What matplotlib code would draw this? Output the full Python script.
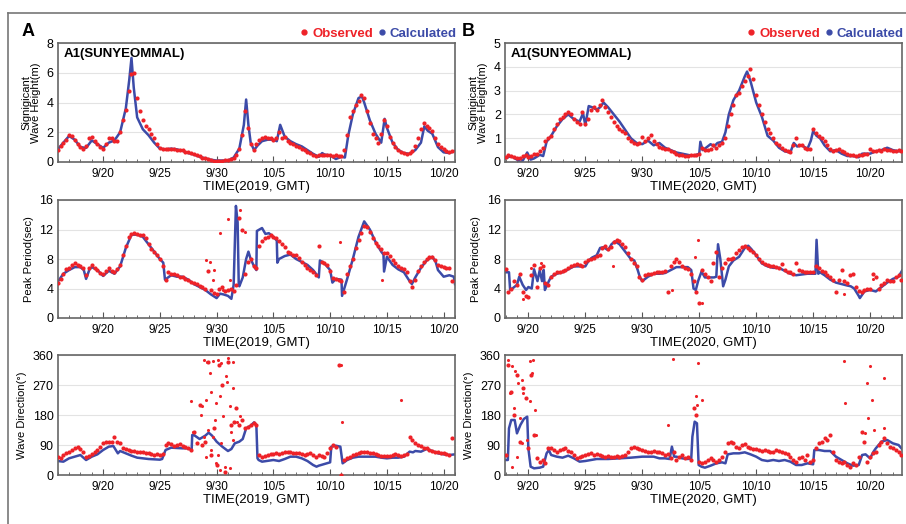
import numpy as np
import matplotlib
matplotlib.use("Agg")
import matplotlib.pyplot as plt
from matplotlib.lines import Line2D
from matplotlib.ticker import MultipleLocator

plt.rcParams['font.family'] = ['Liberation Sans', 'DejaVu Sans']

RED = '#ee2228'
BLUE = '#3c4ba8'

# x axis: day number counted from 1 September (10/5 -> 35)
tick_days = [20, 25, 30, 35, 40, 45, 50]
tick_labels = ['9/20', '9/25', '9/30', '10/5', '10/10', '10/15', '10/20']

# ---------------- 2019 (panel A) ----------------
a_obs_start = 16.0   # observations every 6 h
a_hs_obs = [0.8, 1.1, 1.3, 1.5, 1.8, 1.75, 1.5, 1.2, 1.0, 0.9, 1.1, 1.6, 1.7, 1.4, 1.2, 1.0,
            0.9, 1.2, 1.6, 1.6, 1.4, 1.4, 2.0, 2.8, 3.5, 4.8, 5.9, 6.0, 4.3, 3.4, 2.8, 2.4,
            2.2, 1.9, 1.6, 1.2, 0.95, 0.9, 0.9, 0.85, 0.9, 0.85, 0.8, 0.8, 0.8, 0.7, 0.65, 0.6,
            0.55, 0.5, 0.4, 0.3, 0.25, 0.2, 0.15, 0.1, 0.1, 0.1, 0.1, 0.12, 0.15, 0.2, 0.3, 0.5,
            0.9, 1.8, 3.4, 2.3, 1.2, 0.8, 1.2, 1.5, 1.6, 1.7, 1.6, 1.6, 1.5, 1.6, 2.0, 1.6,
            1.7, 1.4, 1.3, 1.2, 1.1, 1.0, 0.9, 0.8, 0.7, 0.6, 0.5, 0.4, 0.45, 0.5, 0.5, 0.5,
            0.45, 0.4, 0.45, 0.4, 0.4, 0.8, 1.8, 3.0, 3.4, 3.8, 4.1, 4.5, 4.3, 3.4, 2.6, 1.9,
            1.6, 1.3, 1.9, 2.8, 2.4, 1.7, 1.3, 1.0, 0.8, 0.7, 0.6, 0.55, 0.6, 0.75, 1.1, 1.6,
            2.2, 2.6, 2.4, 2.3, 2.1, 1.6, 1.2, 1.0, 0.9, 0.75, 0.7, 0.75]
a_tp_obs = [4.8, 5.3, 6.0, 6.6, 6.8, 7.2, 7.4, 7.2, 7.0, 6.8, 5.8, 6.8, 7.2, 6.8, 6.5, 6.1,
            5.9, 6.4, 6.8, 6.4, 6.2, 6.6, 7.2, 8.6, 9.8, 11.0, 11.4, 11.5, 11.4, 11.3, 11.2, 10.8,
            10.0, 9.4, 9.0, 8.5, 8.0, 7.0, 5.2, 6.2, 6.0, 5.9, 5.8, 5.6, 5.6, 5.3, 5.1, 4.9,
            4.8, 4.6, 4.3, 4.2, 4.0, 6.4, 3.8, 3.4, 3.2, 4.0, 4.2, 3.6, 3.8, 4.0, 3.6, 4.5,
            13.5, 12.0, 6.0, 7.6, 8.0, 7.0, 6.8, 9.8, 10.5, 10.8, 11.0, 11.2, 11.0, 10.8, 10.4, 10.0,
            9.6, 9.0, 8.8, 8.6, 8.5, 8.2, 7.6, 7.2, 6.8, 6.5, 6.3, 5.8, 9.8, 7.6, 7.4, 7.2,
            6.4, 5.4, 5.3, 5.2, 5.0, 3.5, 6.0, 7.0, 8.0, 9.5, 10.6, 11.5, 12.5, 12.4, 11.6, 10.8,
            10.2, 9.8, 9.3, 8.8, 8.8, 8.4, 7.8, 7.4, 7.0, 6.8, 6.6, 6.2, 5.0, 4.2, 5.2, 6.4,
            7.0, 7.6, 8.0, 8.3, 8.3, 7.8, 7.2, 7.0, 6.9, 6.8, 6.8, 5.0]
a_dir_obs = [55, 52, 60, 65, 70, 75, 80, 85, 78, 70, 55, 58, 62, 68, 75, 85,
             95, 100, 98, 100, 115, 100, 95, 80, 78, 75, 72, 72, 70, 70, 68, 65,
             65, 62, 60, 62, 60, 62, 90, 95, 92, 88, 90, 92, 88, 85, 80, 75,
             130, 95, 210, 90, 100, 340, 60, 140, 30, 330, 270, 10, 340, 150, 160, 200,
             150, 165, 140, 145, 150, 155, 150, 60, 55, 58, 60, 62, 62, 65, 62, 65,
             68, 70, 68, 66, 65, 65, 62, 60, 62, 65, 60, 55, 60, 58, 55, 65,
             80, 90, 85, 330, 0, 45, 50, 55, 60, 62, 65, 68, 68, 68, 65, 66,
             62, 60, 58, 58, 56, 58, 60, 62, 60, 58, 60, 62, 115, 105, 95, 90,
             88, 82, 80, 75, 72, 70, 68, 66, 65, 62, 60, 110]
a_tp_extra = [(30.27, 11.5), (31.0, 13.4), (29.44, 7.6), (29.8, 6.5), (32.03, 14.6),
              (32.27, 11.9), (32.5, 11.7), (29.68, 5.1), (30.56, 3.8), (31.15, 5.1),
              (40.9, 10.3), (44.57, 5.1), (29.1, 7.8)]
a_dir_extra = [(27.76, 221), (28.85, 344), (29.14, 338), (29.38, 306), (29.68, 341),
               (30.12, 344), (30.41, 336), (31.0, 351), (31.44, 338), (28.73, 206),
               (29.03, 226), (29.23, 135), (29.82, 165), (30.27, 236), (30.56, 176),
               (31.15, 206), (31.44, 261), (30.8, 296), (29.97, 216), (28.85, 115),
               (29.53, 75), (30.27, 15), (30.71, 25), (29.97, 35), (31.15, 20),
               (29.09, 55), (31.44, 105), (29.68, 115), (30.41, 95), (40.94, 331),
               (41.03, 160), (46.2, 226), (27.9, 130), (32.03, 176), (31.8, 160),
               (29.5, 250), (30.9, 280), (28.6, 180), (30.1, 60), (31.3, 130)]

a_hs_calc = [(16, 0.85), (16.5, 1.3), (17, 1.75), (17.5, 1.5), (18, 1.0), (18.5, 0.95), (19, 1.45),
             (19.5, 1.2), (20, 0.95), (20.5, 1.3), (21, 1.45), (21.5, 2.0), (22, 3.6), (22.3, 5.5),
             (22.5, 7.0), (22.7, 5.0), (23, 3.0), (23.5, 2.2), (24, 1.8), (24.5, 1.3), (25, 0.9),
             (25.5, 0.85), (26, 0.9), (26.5, 0.85), (27, 0.75), (27.5, 0.6), (28, 0.5), (28.5, 0.35),
             (29, 0.25), (29.5, 0.15), (30, 0.1), (30.5, 0.1), (31, 0.1), (31.5, 0.3), (32, 0.9),
             (32.4, 2.5), (32.6, 4.2), (32.8, 2.5), (33, 1.3), (33.3, 0.8), (33.6, 1.1), (34, 1.4),
             (34.5, 1.5), (35, 1.5), (35.3, 1.4), (35.6, 2.5), (36, 1.7), (36.5, 1.4), (37, 1.2),
             (37.5, 1.05), (38, 0.8), (38.5, 0.55), (39, 0.35), (39.3, 0.6), (39.5, 0.5), (40, 0.45),
             (40.5, 0.2), (41, 0.35), (41.3, 0.3), (41.6, 1.8), (42, 3.2), (42.5, 4.3), (42.8, 4.4),
             (43, 4.0), (43.5, 2.8), (44, 1.9), (44.5, 1.3), (44.8, 2.9), (45, 2.3), (45.5, 1.3),
             (46, 0.8), (46.5, 0.6), (47, 0.55), (47.5, 0.8), (48, 1.3), (48.3, 2.4), (48.6, 2.1),
             (49, 1.9), (49.5, 1.0), (50, 0.65), (50.5, 0.6), (51, 0.75)]
a_tp_calc = [(16, 4.9), (16.5, 6.0), (17, 6.5), (17.5, 6.9), (18, 6.9), (18.3, 6.5), (18.5, 5.3),
             (18.8, 6.6), (19, 6.9), (19.5, 6.5), (20, 5.7), (20.5, 6.4), (21, 6.0), (21.5, 7.0),
             (22, 9.5), (22.5, 11.3), (23, 11.3), (23.5, 11.0), (24, 10.0), (24.5, 9.0), (25, 8.0),
             (25.3, 7.5), (25.45, 5.2), (26, 5.8), (26.5, 5.6), (27, 5.6), (27.5, 5.2), (28, 4.6),
             (28.5, 4.2), (29, 3.8), (29.5, 3.2), (30, 2.7), (30.3, 3.3), (30.6, 3.2), (31, 3.0),
             (31.3, 2.6), (31.5, 4.5), (31.7, 15.2), (31.85, 13.0), (31.95, 4.5), (32, 4.3),
             (32.3, 5.5), (32.6, 8.0), (32.8, 9.0), (33, 8.0), (33.3, 7.0), (33.5, 6.5),
             (33.55, 11.8), (34, 12.2), (34.3, 11.4), (34.6, 11.5), (35, 11.0), (35.3, 10.5),
             (35.35, 7.5), (35.5, 8.0), (36, 8.4), (36.5, 8.6), (37, 8.0), (37.5, 7.6), (38, 7.2),
             (38.5, 6.5), (39, 5.5), (39.1, 7.8), (39.5, 7.4), (40, 6.5), (40.2, 4.8), (40.5, 5.3),
             (41, 5.2), (41.05, 3.0), (41.5, 5.3), (42, 8.0), (42.5, 11.0), (43, 13.1), (43.5, 12.0),
             (44, 10.3), (44.5, 9.0), (44.7, 8.6), (44.75, 6.3), (45, 8.3), (45.5, 7.2), (46, 6.6),
             (46.5, 6.2), (47, 5.0), (47.2, 4.6), (47.5, 5.5), (48, 6.8), (48.5, 7.8), (49, 8.3),
             (49.3, 7.6), (49.5, 6.5), (50, 5.6), (50.5, 5.8), (50.9, 5.6), (51, 4.6)]
a_dir_calc = [(16, 42), (16.5, 40), (17, 50), (17.5, 55), (18, 60), (18.5, 45), (19, 55), (19.5, 62),
              (20, 75), (20.5, 85), (20.9, 87), (21.3, 65), (21.5, 72), (22, 65), (22.5, 58),
              (23, 52), (24, 48), (25, 46), (25.2, 48), (25.5, 75), (26, 82), (27, 80), (27.5, 80),
              (27.8, 75), (27.85, 120), (28, 120), (28.5, 108), (29, 118), (29.3, 127), (29.6, 118),
              (30, 100), (30.5, 85), (31, 72), (31.3, 78), (31.6, 95), (32, 100), (32.3, 108),
              (32.6, 140), (33, 148), (33.3, 158), (33.5, 150), (33.6, 50), (33.7, 45), (34, 40),
              (35, 45), (35.5, 42), (36, 48), (36.5, 55), (37, 55), (37.5, 50), (38, 42), (38.5, 30),
              (38.8, 25), (39, 28), (39.5, 33), (40, 38), (40.1, 85), (40.5, 88), (40.9, 85),
              (41.1, 35), (41.5, 45), (42, 52), (42.5, 55), (43, 55), (44, 55), (44.5, 52), (45, 50),
              (45.5, 52), (46, 52), (46.5, 55), (47, 70), (47.3, 68), (47.5, 72), (48, 70),
              (48.5, 78), (49, 72), (49.5, 65), (50, 62), (50.5, 60), (51, 62)]

# ---------------- 2020 (panel B) ----------------
b_obs_start = 18.0
b_hs_obs = [0.2, 0.3, 0.25, 0.2, 0.15, 0.15, 0.25, 0.3, 0.2, 0.25, 0.35, 0.35, 0.45, 0.6, 0.9, 1.0,
            1.1, 1.4, 1.6, 1.8, 1.9, 2.0, 2.1, 2.0, 1.8, 1.7, 1.6, 2.1, 1.6, 1.8, 2.2, 2.3,
            2.2, 2.4, 2.6, 2.3, 2.1, 1.9, 1.7, 1.5, 1.4, 1.3, 1.2, 1.0, 0.9, 0.8, 0.75, 0.8,
            1.05, 0.9, 1.0, 1.15, 0.9, 0.75, 0.65, 0.6, 0.55, 0.55, 0.45, 0.4, 0.35, 0.3, 0.3, 0.25,
            0.25, 0.3, 0.3, 0.3, 0.35, 0.6, 0.5, 0.5, 0.55, 0.7, 0.6, 0.7, 0.8, 1.0, 1.5, 2.0,
            2.4, 2.8, 2.9, 3.2, 3.4, 3.6, 3.9, 3.5, 2.8, 2.4, 2.0, 1.7, 1.4, 1.2, 1.0, 0.8,
            0.7, 0.6, 0.5, 0.45, 0.4, 0.7, 1.0, 0.7, 0.7, 0.6, 0.55, 0.55, 1.4, 1.2, 1.1, 1.0,
            0.9, 0.7, 0.55, 0.45, 0.5, 0.55, 0.45, 0.4, 0.35, 0.3, 0.3, 0.25, 0.3, 0.3, 0.35, 0.35,
            0.55, 0.45, 0.45, 0.5, 0.45, 0.55, 0.5, 0.5, 0.45, 0.45, 0.5, 0.45]
b_tp_obs = [6.6, 3.5, 4.0, 5.0, 4.5, 6.0, 3.5, 3.0, 2.8, 5.8, 7.2, 4.2, 6.8, 7.0, 4.8, 4.5,
            5.5, 6.0, 6.2, 6.3, 6.4, 6.5, 6.8, 7.0, 7.2, 7.3, 7.2, 7.0, 7.6, 7.8, 8.0, 8.2,
            8.4, 8.6, 9.5, 9.8, 9.4, 9.6, 10.3, 10.6, 10.4, 10.0, 9.6, 8.8, 8.0, 7.5, 7.0, 5.5,
            5.2, 5.8, 6.0, 6.0, 6.1, 6.2, 6.3, 6.2, 6.4, 3.5, 7.0, 7.6, 8.0, 7.6, 7.0, 6.8,
            6.6, 6.0, 5.0, 3.5, 2.0, 6.5, 6.0, 5.5, 5.0, 7.5, 9.0, 5.5, 6.8, 7.5, 8.0, 8.0,
            8.2, 8.8, 9.2, 9.6, 9.8, 9.5, 9.2, 9.0, 8.6, 8.0, 7.6, 7.3, 7.2, 7.0, 7.0, 6.9,
            6.8, 7.3, 6.5, 6.3, 6.3, 6.0, 7.5, 6.5, 6.4, 6.3, 6.2, 6.2, 6.3, 7.0, 6.8, 6.4,
            6.2, 5.8, 5.5, 5.2, 3.5, 5.2, 6.5, 5.0, 4.8, 5.8, 6.0, 4.2, 3.6, 3.5, 3.8, 4.0,
            4.0, 6.0, 5.5, 4.0, 4.5, 4.8, 5.2, 5.0, 5.0, 5.5, 5.8, 5.2]
b_dir_obs = [60, 330, 250, 180, 300, 100, 260, 230, 80, 300, 120, 50, 40, 45, 35, 80,
             80, 75, 70, 75, 78, 80, 72, 70, 60, 52, 55, 58, 60, 62, 65, 60,
             62, 60, 58, 55, 58, 55, 55, 56, 55, 58, 60, 70, 82, 85, 80, 78,
             75, 72, 70, 68, 72, 68, 70, 65, 60, 62, 50, 70, 45, 55, 60, 50,
             55, 45, 200, 180, 40, 35, 40, 45, 50, 45, 40, 45, 55, 70, 95, 100,
             95, 85, 80, 90, 92, 85, 80, 78, 78, 75, 72, 75, 72, 70, 70, 75,
             72, 70, 65, 62, 55, 45, 40, 50, 55, 45, 60, 40, 45, 80, 95, 100,
             110, 105, 120, 70, 45, 40, 35, 40, 30, 25, 35, 30, 55, 130, 100, 40,
             55, 65, 70, 90, 100, 110, 95, 85, 80, 75, 70, 60]
b_tp_extra = [(27.4, 7.0), (32.57, 3.8), (34.62, 8.3), (34.91, 10.6), (35.2, 2.0),
              (47.72, 3.3), (50.26, 5.3), (19.5, 2.6), (20.2, 6.8), (21.1, 7.4)]
b_dir_extra = [(18.25, 346), (18.54, 326), (18.83, 311), (18.39, 246), (19.12, 276),
               (19.42, 286), (19.56, 246), (20.15, 341), (20.44, 346), (20.29, 306),
               (18.54, 25), (19.0, 55), (19.42, 95), (19.85, 105), (20.58, 196),
               (20.15, 221), (32.28, 150), (32.66, 348), (34.71, 236), (34.82, 211),
               (34.91, 336), (35.2, 226), (47.72, 341), (47.78, 216), (49.85, 170),
               (50.0, 326), (50.15, 226), (50.3, 135), (51.2, 140), (51.26, 291),
               (49.7, 276), (49.56, 125), (18.7, 200), (19.3, 170), (20.7, 120)]

b_hs_calc = [(17.95, 0.15), (18.5, 0.25), (19, 0.1), (19.3, 0.0), (19.5, 0.05), (19.9, 0.4),
             (20.2, 0.1), (20.5, 0.15), (21, 0.3), (21.3, 0.25), (21.6, 0.85), (22, 1.1), (22.5, 1.5),
             (23, 1.8), (23.5, 2.0), (24, 1.8), (24.5, 1.7), (24.8, 2.05), (25, 1.55), (25.3, 2.35),
             (25.6, 2.3), (26, 2.2), (26.3, 2.3), (26.6, 2.5), (27, 2.3), (27.5, 2.0), (28, 1.7),
             (28.5, 1.35), (29, 1.0), (29.5, 0.8), (30, 0.75), (30.5, 0.9), (31, 0.7), (31.5, 0.8),
             (32, 0.6), (32.5, 0.5), (33, 0.4), (33.5, 0.35), (34, 0.3), (34.5, 0.25), (35, 0.35),
             (35.1, 0.85), (35.3, 0.5), (35.6, 0.6), (36, 0.75), (36.3, 0.65), (36.6, 0.8),
             (37, 0.85), (37.3, 1.25), (37.6, 2.0), (38, 2.6), (38.5, 3.0), (39, 3.6), (39.2, 3.8),
             (39.5, 3.4), (40, 2.5), (40.5, 1.9), (41, 1.1), (41.5, 0.9), (42, 0.6), (42.5, 0.45),
             (43, 0.4), (43.3, 0.8), (43.6, 0.65), (44, 0.7), (44.5, 0.55), (44.8, 0.9), (45, 1.3),
             (45.3, 1.1), (45.6, 1.0), (46, 0.7), (46.5, 0.45), (47, 0.5), (47.5, 0.35), (48, 0.25),
             (48.5, 0.25), (49, 0.2), (49.3, 0.35), (50, 0.35), (50.5, 0.45), (51, 0.5), (51.5, 0.6),
             (52, 0.5), (52.5, 0.45), (52.8, 0.5)]
b_tp_calc = [(17.95, 6.2), (18.3, 6.2), (18.4, 3.8), (18.6, 4.0), (19, 4.5), (19.2, 5.6), (19.5, 4.5),
             (19.8, 3.8), (20, 4.2), (20.3, 4.0), (20.5, 6.6), (20.8, 5.0), (21, 6.5), (21.2, 5.0),
             (21.35, 6.5), (21.45, 3.8), (21.8, 5.0), (22, 5.6), (22.5, 6.0), (23, 6.2), (23.5, 6.6),
             (24, 7.0), (24.5, 7.0), (25, 7.0), (25.3, 7.8), (25.6, 8.2), (26, 8.5), (26.3, 9.5),
             (26.6, 9.6), (27, 9.2), (27.3, 10.0), (27.6, 10.4), (28, 10.0), (28.5, 9.0), (29, 8.0),
             (29.3, 7.8), (29.6, 6.5), (29.8, 5.5), (30, 5.0), (30.5, 5.6), (31, 6.0), (31.5, 6.0),
             (32, 6.1), (32.5, 6.5), (33, 6.9), (33.5, 6.9), (34, 6.9), (34.3, 6.5), (34.5, 4.0),
             (34.7, 3.8), (34.9, 5.0), (35.2, 6.3), (35.5, 5.5), (36, 5.5), (36.3, 5.5), (36.5, 5.6),
             (36.65, 10.0), (36.85, 8.0), (37.1, 4.3), (37.3, 5.2), (37.6, 7.0), (38, 7.8),
             (38.5, 8.3), (39, 9.5), (39.3, 9.8), (39.6, 9.3), (40, 8.5), (40.5, 7.4), (41, 7.0),
             (41.5, 6.8), (42, 6.8), (42.5, 6.4), (43, 6.0), (43.5, 5.8), (44, 5.9), (44.5, 6.0),
             (45.2, 6.0), (45.3, 10.6), (45.45, 6.0), (45.6, 6.2), (46, 5.8), (46.5, 5.2), (47, 4.8),
             (47.5, 4.6), (48, 4.4), (48.3, 4.3), (48.6, 4.0), (49, 3.0), (49.1, 2.7), (49.5, 3.6),
             (50, 3.8), (50.5, 3.6), (51, 4.2), (51.5, 4.8), (52, 5.3), (52.5, 5.6), (52.8, 6.4)]
b_dir_calc = [(17.95, 45), (18.2, 45), (18.3, 140), (18.5, 165), (18.8, 165), (19, 125), (19.3, 150),
              (19.6, 168), (19.9, 175), (20.0, 80), (20.2, 25), (20.5, 20), (21, 22), (21.3, 25),
              (21.6, 65), (21.8, 75), (22, 60), (22.5, 55), (23, 52), (23.5, 58), (24, 50),
              (24.5, 40), (25, 42), (25.5, 45), (26, 48), (27, 48), (28, 50), (29, 52), (30, 55),
              (30.5, 55), (31, 55), (31.5, 50), (32, 50), (32.4, 48), (32.6, 85), (32.8, 55),
              (33, 55), (33.5, 50), (34, 48), (34.3, 50), (34.4, 115), (34.6, 160), (34.8, 155),
              (34.95, 30), (35.2, 25), (35.5, 22), (36, 28), (36.5, 35), (37, 38), (37.3, 35),
              (37.5, 62), (38, 65), (38.5, 65), (39, 68), (39.5, 62), (40, 55), (40.5, 45),
              (41, 42), (41.5, 45), (42, 42), (42.5, 45), (43, 40), (43.5, 30), (44, 30),
              (44.5, 35), (45, 32), (45.1, 75), (45.5, 75), (46, 72), (46.5, 72), (47, 55),
              (47.5, 45), (48, 35), (48.5, 28), (49, 30), (49.3, 60), (49.6, 62), (50, 50),
              (50.3, 70), (50.5, 80), (51, 100), (51.5, 105), (52, 95), (52.5, 90), (52.8, 78)]

# ---------------- figure ----------------
W, H = 906, 524
fig = plt.figure(figsize=(W / 100, H / 100), dpi=100)

# outer frame lines (top and left)
fig.add_artist(Line2D([8 / W, 1], [1 - 13 / H, 1 - 13 / H], transform=fig.transFigure,
                      color='#777777', lw=1.2))
fig.add_artist(Line2D([8 / W, 8 / W], [0, 1 - 13 / H], transform=fig.transFigure,
                      color='#777777', lw=1.2))

col_left = {'A': 57.7, 'B': 505}
col_right = {'A': 455, 'B': 902}
rows = [(43, 162), (200, 318), (355, 475)]


def make_ax(col, row):
    l, r = col_left[col], col_right[col]
    t, b = rows[row]
    return fig.add_axes([l / W, 1 - b / H, (r - l) / W, (b - t) / H])


def draw(ax, calc, obs_start, obs, extra, xlim, ylim, yticks, ylabel, xlabel):
    ct, cv = zip(*calc)
    ax.plot(ct, cv, color=BLUE, lw=1.8, zorder=2, solid_joinstyle='round')
    ot = obs_start + 0.25 * np.arange(len(obs))
    ax.scatter(ot, obs, s=9, color=RED, linewidths=0, zorder=3)
    if extra:
        et, ev = zip(*extra)
        ax.scatter(et, ev, s=5, color=RED, linewidths=0, zorder=3)
    ax.set_xlim(*xlim)
    ax.set_ylim(*ylim)
    ax.set_yticks(yticks)
    ax.set_xticks(tick_days)
    ax.set_xticklabels(tick_labels)
    ax.xaxis.set_minor_locator(MultipleLocator(1))
    ax.grid(axis='y', color='#e3e3e3', lw=0.8, zorder=0)
    ax.set_axisbelow(True)
    ax.tick_params(axis='x', which='major', direction='in', length=4, width=0.8,
                   color='#555555', labelsize=8.5, pad=4)
    ax.tick_params(axis='x', which='minor', direction='in', length=2.5, width=0.6,
                   color='#555555')
    ax.tick_params(axis='y', length=0, labelsize=9, pad=3)
    for sp in ax.spines.values():
        sp.set_color('#666666')
        sp.set_linewidth(1.2)
    ax.set_ylabel(ylabel, fontsize=8, linespacing=0.95, labelpad=4)
    ax.set_xlabel(xlabel, fontsize=9.5, labelpad=1)


panels = [
    ('A', (16, 51), 'TIME(2019, GMT)', [
        (a_hs_calc, a_obs_start, a_hs_obs, None, (0, 8), [0, 2, 4, 6, 8],
         'Signigicant\nWave Height(m)'),
        (a_tp_calc, a_obs_start, a_tp_obs, a_tp_extra, (0, 16), [0, 4, 8, 12, 16],
         'Peak Period(sec)'),
        (a_dir_calc, a_obs_start, a_dir_obs, a_dir_extra, (0, 360), [0, 90, 180, 270, 360],
         'Wave Direction(°)'),
    ]),
    ('B', (17.95, 52.8), 'TIME(2020, GMT)', [
        (b_hs_calc, b_obs_start, b_hs_obs, None, (0, 5), [0, 1, 2, 3, 4, 5],
         'Signigicant\nWave Height(m)'),
        (b_tp_calc, b_obs_start, b_tp_obs, b_tp_extra, (0, 16), [0, 4, 8, 12, 16],
         'Peak Period(sec)'),
        (b_dir_calc, b_obs_start, b_dir_obs, b_dir_extra, (0, 360), [0, 90, 180, 270, 360],
         'Wave Direction(°)'),
    ]),
]

for col, xlim, xlabel, specs in panels:
    for row, (calc, start, obs, extra, ylim, yticks, ylabel) in enumerate(specs):
        ax = make_ax(col, row)
        draw(ax, calc, start, obs, extra, xlim, ylim, yticks, ylabel, xlabel)
        if row == 0:
            ax.text(0.015, 0.955, 'A1(SUNYEOMMAL)', transform=ax.transAxes, ha='left',
                    va='top', fontsize=9.5, fontweight='bold')
            handles = [Line2D([], [], marker='o', ls='none', color=RED, markersize=3.5),
                       Line2D([], [], marker='o', ls='none', color=BLUE, markersize=3.5)]
            leg = ax.legend(handles, ['Observed', 'Calculated'], loc='lower right',
                            bbox_to_anchor=(1.005, 1.025), ncol=2, frameon=False,
                            handlelength=0.5, handletextpad=0.35, columnspacing=0.45,
                            borderaxespad=0, borderpad=0,
                            prop={'weight': 'bold', 'size': 9.5},
                            labelcolor=[RED, BLUE])

fig.text(22 / W, 1 - 31 / H, 'A', fontsize=13, fontweight='bold', va='center', ha='left')
fig.text(462 / W, 1 - 31 / H, 'B', fontsize=13, fontweight='bold', va='center', ha='left')

fig.savefig('out.png', dpi=100)
